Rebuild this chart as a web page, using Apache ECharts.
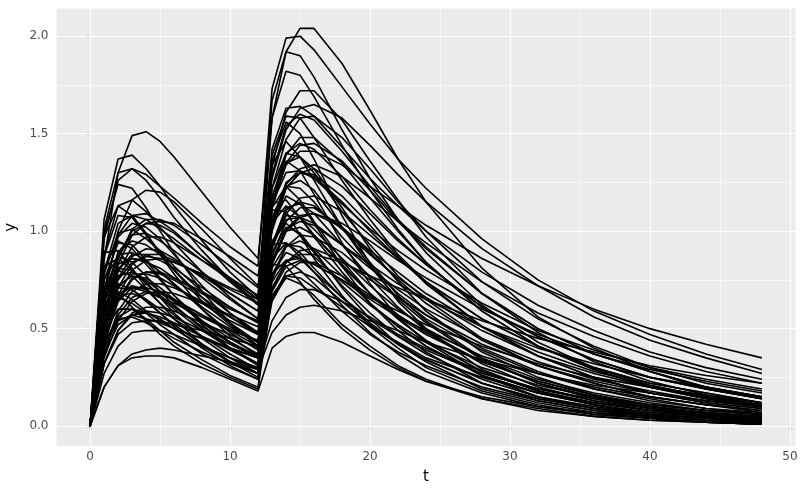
<!DOCTYPE html>
<html>
<head>
<meta charset="utf-8">
<script src="https://cdn.jsdelivr.net/npm/echarts@6/dist/echarts.min.js"></script>
<style>html,body{margin:0;padding:0;background:#fff}#c{width:800px;height:494px}</style>
</head>
<body>
<div id="c"></div>
<script>
// sampling times (h)
const times = [0,1,2,3,4,5,6,8,10,12,13,14,15,16,18,20,22,24,28,32,36,40,44,48];

// concentration curves (one per subject)
const s01 = [0,0.85,1.30,1.49,1.51,1.46,1.38,1.20,1.02,0.86,1.58,1.92,2.04,2.04,1.86,1.62,1.37,1.15,0.81,0.56,0.40,0.28,0.19,0.14];
const s02 = [0,0.96,1.26,1.32,1.29,1.23,1.17,1.04,0.92,0.82,1.73,1.99,2.00,1.93,1.74,1.55,1.37,1.22,0.96,0.75,0.59,0.47,0.37,0.29];
const s03 = [0,1.06,1.37,1.39,1.32,1.23,1.13,0.95,0.79,0.66,1.67,1.92,1.90,1.79,1.52,1.27,1.06,0.89,0.62,0.43,0.30,0.21,0.15,0.10];
const s04 = [0,0.51,0.75,0.84,0.87,0.86,0.84,0.78,0.71,0.65,1.14,1.34,1.41,1.41,1.34,1.23,1.13,1.03,0.86,0.72,0.60,0.50,0.42,0.35];
const s05 = [0,0.54,0.83,0.98,1.04,1.05,1.04,0.96,0.87,0.77,1.27,1.52,1.63,1.65,1.58,1.44,1.29,1.15,0.91,0.72,0.56,0.44,0.35,0.27];
const s06 = [0,0.99,1.24,1.22,1.12,1.00,0.89,0.69,0.53,0.41,1.36,1.56,1.50,1.37,1.08,0.83,0.64,0.50,0.29,0.18,0.11,0.06,0.04,0.02];
const s07 = [0,0.66,1.00,1.16,1.21,1.20,1.15,1.01,0.86,0.72,1.33,1.61,1.72,1.72,1.57,1.36,1.16,0.97,0.68,0.48,0.33,0.23,0.16,0.11];
const s08 = [0,1.01,1.30,1.32,1.26,1.17,1.07,0.90,0.75,0.63,1.58,1.82,1.80,1.69,1.44,1.21,1.01,0.84,0.59,0.41,0.29,0.20,0.14,0.10];
const s09 = [0,0.88,1.13,1.16,1.10,1.02,0.94,0.79,0.66,0.55,1.39,1.59,1.58,1.48,1.26,1.06,0.88,0.74,0.51,0.36,0.25,0.17,0.12,0.09];
const s10 = [0,0.79,1.04,1.08,1.06,1.01,0.96,0.85,0.76,0.67,1.42,1.63,1.64,1.59,1.43,1.27,1.13,1.00,0.79,0.62,0.49,0.38,0.30,0.24];
const s11 = [0,0.57,0.86,1.00,1.04,1.03,0.99,0.87,0.74,0.62,1.14,1.39,1.48,1.48,1.35,1.17,1.00,0.84,0.59,0.41,0.29,0.20,0.14,0.10];
const s12 = [0,0.87,1.08,1.07,0.98,0.88,0.78,0.60,0.46,0.36,1.18,1.36,1.31,1.19,0.94,0.73,0.56,0.43,0.26,0.15,0.09,0.05,0.03,0.02];
const s13 = [0,0.32,0.47,0.53,0.54,0.54,0.52,0.49,0.45,0.41,0.71,0.84,0.88,0.88,0.84,0.77,0.71,0.65,0.54,0.45,0.38,0.31,0.26,0.22];
const s14 = [0,0.78,0.99,1.01,0.96,0.90,0.82,0.69,0.58,0.48,1.22,1.40,1.38,1.30,1.10,0.93,0.77,0.65,0.45,0.31,0.22,0.15,0.11,0.08];
const s15 = [0,0.44,0.67,0.80,0.85,0.86,0.84,0.78,0.70,0.63,1.03,1.24,1.32,1.34,1.28,1.17,1.05,0.94,0.74,0.58,0.46,0.36,0.28,0.22];
const s16 = [0,0.50,0.76,0.87,0.91,0.90,0.86,0.76,0.65,0.55,1.00,1.22,1.30,1.29,1.18,1.03,0.87,0.73,0.51,0.36,0.25,0.17,0.12,0.09];
const s17 = [0,0.75,0.94,0.93,0.85,0.76,0.67,0.52,0.40,0.31,1.03,1.18,1.14,1.04,0.82,0.63,0.49,0.38,0.22,0.13,0.08,0.05,0.03,0.02];
const s18 = [0,0.63,0.83,0.86,0.84,0.81,0.76,0.68,0.60,0.54,1.14,1.30,1.31,1.27,1.14,1.01,0.90,0.80,0.63,0.49,0.39,0.30,0.24,0.19];
const s19 = [0,0.68,0.88,0.89,0.85,0.79,0.73,0.61,0.51,0.43,1.07,1.23,1.22,1.15,0.97,0.82,0.68,0.57,0.40,0.28,0.19,0.14,0.09,0.07];
const s20 = [0,0.89,0.90,0.81,0.71,0.63,0.55,0.42,0.33,0.25,1.11,1.10,0.98,0.86,0.67,0.51,0.40,0.30,0.18,0.11,0.06,0.04,0.02,0.01];
const s21 = [0,0.82,0.86,0.80,0.73,0.67,0.61,0.51,0.43,0.36,1.14,1.16,1.07,0.98,0.82,0.68,0.57,0.48,0.33,0.23,0.16,0.11,0.08,0.06];
const s22 = [0,0.43,0.65,0.76,0.79,0.78,0.75,0.66,0.56,0.47,0.87,1.05,1.12,1.12,1.02,0.89,0.75,0.63,0.44,0.31,0.22,0.15,0.11,0.07];
const s23 = [0,0.65,0.81,0.80,0.74,0.66,0.58,0.45,0.35,0.27,0.89,1.02,0.99,0.90,0.71,0.55,0.42,0.33,0.19,0.12,0.07,0.04,0.02,0.01];
const s24 = [0,0.60,0.77,0.79,0.75,0.69,0.64,0.54,0.45,0.37,0.94,1.08,1.07,1.01,0.86,0.72,0.60,0.50,0.35,0.24,0.17,0.12,0.08,0.06];
const s25 = [0,0.35,0.54,0.64,0.68,0.69,0.68,0.63,0.57,0.51,0.83,1.00,1.07,1.09,1.04,0.95,0.85,0.76,0.60,0.47,0.37,0.29,0.23,0.18];
const s26 = [0,0.52,0.68,0.71,0.69,0.66,0.63,0.56,0.49,0.44,0.93,1.06,1.07,1.04,0.93,0.83,0.73,0.65,0.51,0.40,0.32,0.25,0.20,0.15];
const s27 = [0,0.37,0.57,0.66,0.69,0.68,0.65,0.57,0.49,0.41,0.75,0.92,0.98,0.97,0.89,0.77,0.66,0.55,0.39,0.27,0.19,0.13,0.09,0.06];
const s28 = [0,0.57,0.71,0.70,0.65,0.58,0.51,0.40,0.31,0.24,0.78,0.89,0.86,0.79,0.62,0.48,0.37,0.28,0.17,0.10,0.06,0.04,0.02,0.01];
const s29 = [0,0.52,0.67,0.68,0.65,0.60,0.55,0.46,0.39,0.32,0.81,0.93,0.92,0.87,0.74,0.62,0.52,0.43,0.30,0.21,0.15,0.10,0.07,0.05];
const s30 = [0,0.66,0.69,0.65,0.59,0.54,0.50,0.41,0.35,0.29,0.93,0.94,0.87,0.79,0.66,0.55,0.46,0.39,0.27,0.19,0.13,0.09,0.06,0.05];
const s31 = [0,0.67,0.68,0.61,0.54,0.47,0.41,0.32,0.25,0.19,0.83,0.82,0.74,0.65,0.50,0.39,0.30,0.23,0.14,0.08,0.05,0.03,0.02,0.01];
const s32 = [0,0.32,0.49,0.57,0.59,0.58,0.56,0.49,0.42,0.35,0.65,0.79,0.84,0.84,0.77,0.67,0.56,0.47,0.33,0.23,0.16,0.11,0.08,0.06];
const s33 = [0,0.41,0.54,0.57,0.55,0.53,0.50,0.45,0.40,0.35,0.74,0.85,0.86,0.83,0.75,0.66,0.59,0.52,0.41,0.32,0.25,0.20,0.16,0.12];
const s34 = [0,0.48,0.60,0.60,0.55,0.49,0.43,0.34,0.26,0.20,0.66,0.76,0.73,0.67,0.52,0.41,0.31,0.24,0.14,0.09,0.05,0.03,0.02,0.01];
const s35 = [0,0.43,0.55,0.56,0.53,0.49,0.45,0.38,0.32,0.27,0.67,0.77,0.76,0.71,0.61,0.51,0.43,0.35,0.25,0.17,0.12,0.08,0.06,0.04];
const s36 = [0,0.27,0.41,0.48,0.49,0.49,0.47,0.41,0.35,0.30,0.54,0.66,0.70,0.70,0.64,0.56,0.47,0.40,0.28,0.19,0.14,0.10,0.07,0.05];
const s37 = [0,0.20,0.31,0.37,0.39,0.40,0.39,0.36,0.33,0.29,0.48,0.57,0.61,0.62,0.59,0.54,0.49,0.43,0.34,0.27,0.21,0.17,0.13,0.10];
const s38 = [0,0.20,0.31,0.35,0.36,0.36,0.35,0.30,0.24,0.18,0.40,0.46,0.48,0.48,0.43,0.36,0.29,0.23,0.15,0.10,0.07,0.05,0.03,0.02];
const s39 = [0,0.69,0.98,1.08,1.09,1.05,1.00,0.87,0.76,0.65,1.29,1.54,1.60,1.57,1.41,1.23,1.06,0.92,0.68,0.50,0.37,0.28,0.20,0.15];
const s40 = [0,0.56,0.80,0.88,0.88,0.85,0.81,0.71,0.61,0.53,1.05,1.25,1.30,1.28,1.15,1.00,0.86,0.74,0.55,0.41,0.30,0.22,0.17,0.12];
const s41 = [0,0.45,0.64,0.71,0.71,0.69,0.65,0.57,0.50,0.43,0.85,1.01,1.05,1.03,0.93,0.81,0.70,0.60,0.45,0.33,0.24,0.18,0.13,0.10];
const s42 = [0,0.37,0.52,0.57,0.58,0.56,0.53,0.46,0.40,0.35,0.69,0.82,0.85,0.83,0.75,0.65,0.56,0.49,0.36,0.27,0.20,0.15,0.11,0.08];
const s43 = [0,0.97,1.13,1.08,0.99,0.89,0.80,0.64,0.52,0.41,1.34,1.46,1.38,1.26,1.02,0.82,0.65,0.53,0.34,0.22,0.14,0.09,0.06,0.04];
const s44 = [0,0.81,0.95,0.91,0.83,0.75,0.67,0.54,0.43,0.35,1.12,1.23,1.16,1.05,0.85,0.68,0.55,0.44,0.28,0.18,0.12,0.08,0.05,0.03];
const s45 = [0,0.69,0.80,0.77,0.70,0.63,0.57,0.46,0.37,0.29,0.95,1.04,0.98,0.89,0.72,0.58,0.46,0.37,0.24,0.15,0.10,0.06,0.04,0.03];
const s46 = [0,0.56,0.66,0.63,0.58,0.52,0.47,0.37,0.30,0.24,0.78,0.85,0.80,0.73,0.59,0.47,0.38,0.31,0.20,0.13,0.08,0.05,0.03,0.02];
const s47 = [0,0.70,0.97,1.04,1.02,0.96,0.88,0.72,0.58,0.47,1.12,1.35,1.38,1.32,1.12,0.91,0.74,0.59,0.38,0.25,0.16,0.10,0.07,0.04];
const s48 = [0,0.58,0.81,0.86,0.85,0.79,0.73,0.60,0.48,0.39,0.93,1.12,1.14,1.09,0.93,0.76,0.61,0.49,0.32,0.20,0.13,0.08,0.06,0.03];
const s49 = [0,0.48,0.67,0.72,0.70,0.66,0.60,0.49,0.40,0.32,0.77,0.92,0.95,0.91,0.77,0.63,0.51,0.41,0.26,0.17,0.11,0.07,0.05,0.03];
const s50 = [0,0.40,0.56,0.60,0.58,0.55,0.50,0.41,0.33,0.27,0.64,0.77,0.79,0.76,0.64,0.52,0.42,0.34,0.22,0.14,0.09,0.06,0.04,0.02];
const s51 = [0,0.56,0.86,1.01,1.06,1.06,1.03,0.93,0.82,0.71,1.22,1.47,1.58,1.59,1.48,1.32,1.15,1.00,0.74,0.55,0.41,0.30,0.22,0.17];
const s52 = [0,0.47,0.71,0.83,0.88,0.88,0.85,0.77,0.68,0.59,1.01,1.22,1.30,1.32,1.23,1.09,0.95,0.83,0.61,0.46,0.34,0.25,0.19,0.14];
const s53 = [0,0.39,0.59,0.69,0.73,0.73,0.71,0.64,0.56,0.48,0.84,1.01,1.08,1.09,1.02,0.90,0.79,0.68,0.51,0.38,0.28,0.21,0.15,0.11];
const s54 = [0,0.32,0.49,0.58,0.61,0.61,0.59,0.53,0.47,0.40,0.70,0.84,0.90,0.91,0.85,0.75,0.66,0.57,0.42,0.31,0.23,0.17,0.13,0.10];
const s55 = [0,0.62,0.89,0.98,0.99,0.95,0.90,0.79,0.68,0.59,1.17,1.40,1.45,1.42,1.28,1.11,0.96,0.83,0.61,0.46,0.34,0.25,0.19,0.14];
const s56 = [0,0.75,0.87,0.84,0.77,0.69,0.62,0.50,0.40,0.32,1.04,1.13,1.07,0.97,0.79,0.63,0.51,0.41,0.26,0.17,0.11,0.07,0.05,0.03];
const s57 = [0,0.52,0.72,0.77,0.76,0.71,0.65,0.53,0.43,0.35,0.83,1.00,1.02,0.98,0.83,0.68,0.55,0.44,0.28,0.18,0.12,0.08,0.05,0.03];
const s58 = [0,0.42,0.64,0.75,0.79,0.79,0.76,0.69,0.61,0.53,0.91,1.09,1.17,1.18,1.10,0.98,0.86,0.74,0.55,0.41,0.30,0.22,0.17,0.12];
const s59 = [0,0.50,0.71,0.78,0.78,0.76,0.72,0.63,0.54,0.47,0.93,1.11,1.15,1.13,1.01,0.88,0.76,0.66,0.49,0.36,0.27,0.20,0.15,0.11];
const s60 = [0,0.62,0.73,0.70,0.64,0.58,0.52,0.42,0.33,0.27,0.86,0.94,0.89,0.81,0.66,0.53,0.42,0.34,0.22,0.14,0.09,0.06,0.04,0.02];
const s61 = [0,0.64,0.89,0.95,0.93,0.88,0.80,0.66,0.53,0.43,1.02,1.23,1.26,1.21,1.02,0.84,0.67,0.54,0.35,0.22,0.15,0.09,0.06,0.04];
const s62 = [0,0.51,0.79,0.92,0.97,0.97,0.94,0.85,0.75,0.65,1.12,1.35,1.44,1.45,1.36,1.21,1.05,0.91,0.68,0.50,0.37,0.28,0.20,0.15];

const subjects = [s01,s02,s03,s04,s05,s06,s07,s08,s09,s10,s11,s12,s13,s14,s15,s16,s17,s18,s19,s20,
                  s21,s22,s23,s24,s25,s26,s27,s28,s29,s30,s31,s32,s33,s34,s35,s36,s37,s38,s39,s40,
                  s41,s42,s43,s44,s45,s46,s47,s48,s49,s50,s51,s52,s53,s54,s55,s56,s57,s58,s59,s60,s61,s62];

// axis ticks
const xTicks = [0,10,20,30,40,50];
const xMinor = [5,15,25,35,45];
const yTicks = [0,0.5,1,1.5,2];
const yMinor = [0.25,0.75,1.25,1.75];

const chart = echarts.init(document.getElementById('c'), null, {renderer:'canvas'});

const gridLines = [];
xMinor.forEach(v => gridLines.push({xAxis:v, lineStyle:{color:'#ffffff', width:0.6, type:'solid'}}));
yMinor.forEach(v => gridLines.push({yAxis:v, lineStyle:{color:'#ffffff', width:0.6, type:'solid'}}));
xTicks.forEach(v => gridLines.push({xAxis:v, lineStyle:{color:'#ffffff', width:1.2, type:'solid'}}));
yTicks.forEach(v => gridLines.push({yAxis:v, lineStyle:{color:'#ffffff', width:1.2, type:'solid'}}));

const series = [{
  type:'line', name:'grid', data:[[-2.4,-0.102]], showSymbol:false, silent:true,
  lineStyle:{opacity:0}, z:1,
  markLine:{silent:true, symbol:['none','none'], label:{show:false}, z:1, animation:false,
    emphasis:{disabled:true}, data:gridLines}
}];
subjects.forEach((arr, k) => {
  series.push({
    type:'line', name:'id'+(k+1),
    data: times.map((t,i) => [t, arr[i]]),
    showSymbol:false, symbol:'none', smooth:false, z:3,
    lineStyle:{color:'#000000', width:1.6},
    emphasis:{disabled:true}, silent:true
  });
});

chart.setOption({
  animation:false,
  backgroundColor:'#ffffff',
  grid:{left:56.5, right:4.5, top:8.5, bottom:48, show:true, backgroundColor:'#EBEBEB', borderWidth:0,
        containLabel:false, outerBoundsMode:'none'},
  xAxis:{
    type:'value', min:-2.4, max:50.4,
    name:'t', nameLocation:'middle', nameGap:24,
    nameTextStyle:{color:'#000000', fontSize:15, fontFamily:'DejaVu Sans'},
    axisLine:{show:false},
    axisTick:{show:true, customValues:xTicks, length:4, lineStyle:{color:'#333333', width:1.2}},
    axisLabel:{customValues:xTicks, color:'#4D4D4D', fontSize:12, fontFamily:'DejaVu Sans', margin:5},
    splitLine:{show:false}
  },
  yAxis:{
    type:'value', min:-0.102, max:2.142,
    name:'y', nameLocation:'middle', nameGap:36, nameRotate:90,
    nameTextStyle:{color:'#000000', fontSize:15, fontFamily:'DejaVu Sans'},
    axisLine:{show:false},
    axisTick:{show:true, customValues:yTicks, length:4, lineStyle:{color:'#333333', width:1.2}},
    axisLabel:{customValues:yTicks, color:'#4D4D4D', fontSize:12, fontFamily:'DejaVu Sans', margin:8,
      formatter: v => v.toFixed(1)},
    splitLine:{show:false}
  },
  series: series
});
</script>
</body>
</html>
